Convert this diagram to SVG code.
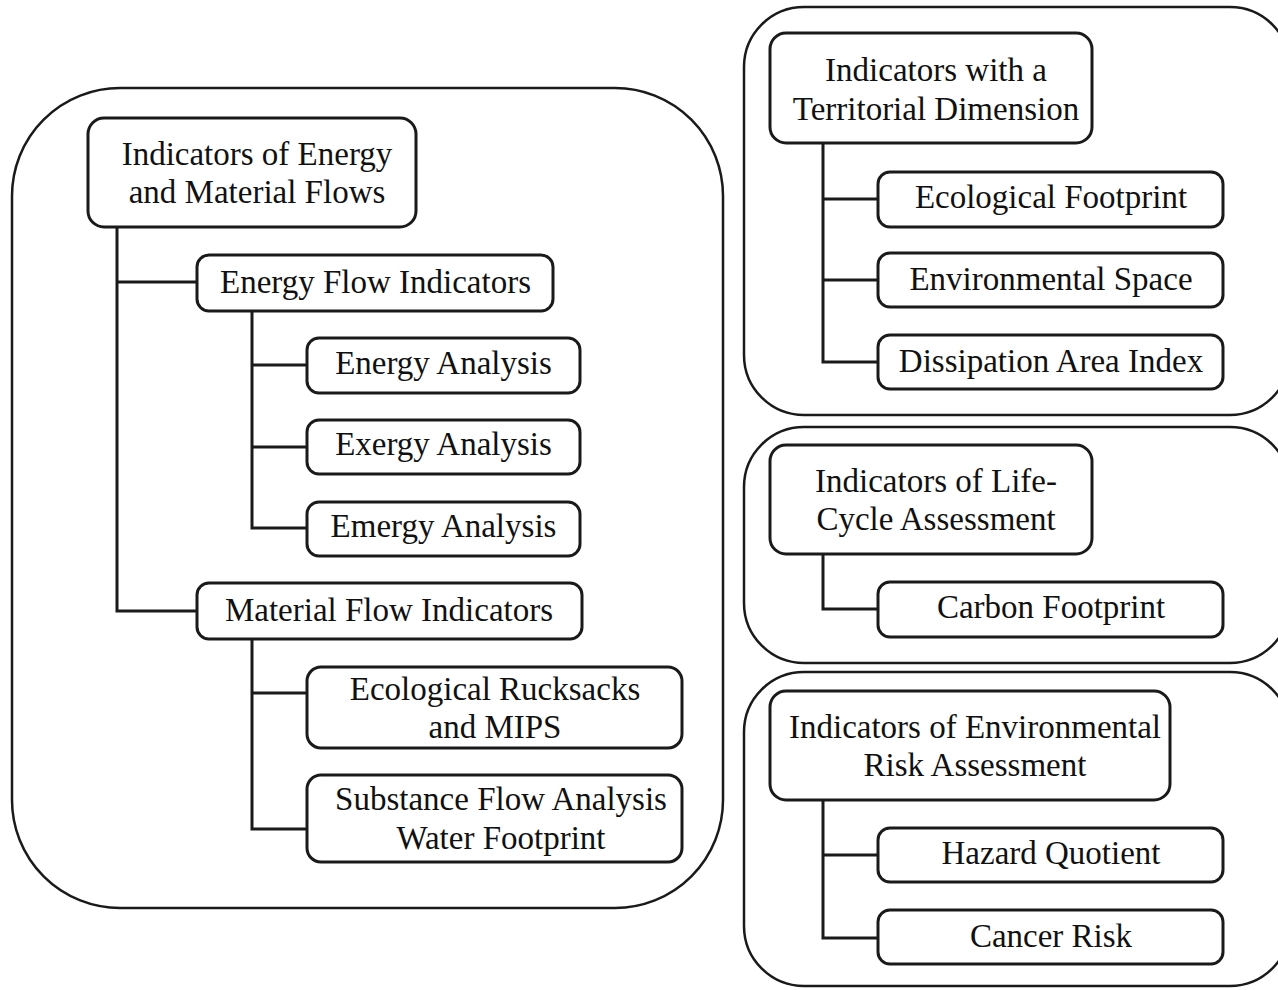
<svg xmlns="http://www.w3.org/2000/svg" width="1278" height="990" viewBox="0 0 1278 990">
<style>
.outer{fill:none;stroke:#1a1a1a;stroke-width:2.5}
.box{fill:#fff;stroke:#1a1a1a;stroke-width:3}
.conn{fill:none;stroke:#1a1a1a;stroke-width:3;stroke-linejoin:miter}
text{font-family:"Liberation Serif","Times New Roman",serif;font-size:33px;fill:#111;text-anchor:middle}
</style>
<rect width="1278" height="990" fill="#fff"/>
<g id="containers">
<rect class="outer" x="12" y="88" width="711" height="820" rx="108" ry="108"/>
<rect class="outer" x="744" y="7" width="546" height="408" rx="60" ry="60"/>
<rect class="outer" x="744" y="427" width="546" height="236" rx="60" ry="60"/>
<rect class="outer" x="744" y="672" width="546" height="314" rx="60" ry="60"/>
</g>
<g id="connectors">
<path class="conn" d="M117,227 V611 H197 M117,282 H197"/>
<path class="conn" d="M252,311 V528 H307 M252,365 H307 M252,447 H307"/>
<path class="conn" d="M252,639 V829 H307 M252,693 H307"/>
<path class="conn" d="M823,143 V362 H878 M823,199 H878 M823,280 H878"/>
<path class="conn" d="M823,554 V609 H878"/>
<path class="conn" d="M823,800 V938 H878 M823,855 H878"/>
</g>
<g id="n-energy-material"><rect class="box" x="88" y="118" width="328" height="109" rx="16"/><text x="257" y="165">Indicators of Energy</text><text x="257" y="203">and Material Flows</text></g>
<g id="n-energy-flow"><rect class="box" x="197" y="255" width="356" height="56" rx="12"/><text x="375.5" y="293">Energy Flow Indicators</text></g>
<g id="n-energy-analysis"><rect class="box" x="307" y="338" width="273" height="55" rx="12"/><text x="443.5" y="374">Energy Analysis</text></g>
<g id="n-exergy"><rect class="box" x="307" y="420" width="273" height="54" rx="12"/><text x="443.5" y="455">Exergy Analysis</text></g>
<g id="n-emergy"><rect class="box" x="307" y="502" width="273" height="54" rx="12"/><text x="443.5" y="537">Emergy Analysis</text></g>
<g id="n-material-flow"><rect class="box" x="197" y="583" width="385" height="56" rx="12"/><text x="389" y="621">Material Flow Indicators</text></g>
<g id="n-rucksacks"><rect class="box" x="307" y="667" width="375" height="81" rx="14"/><text x="495" y="700">Ecological Rucksacks</text><text x="495" y="738">and MIPS</text></g>
<g id="n-substance"><rect class="box" x="307" y="775" width="375" height="87" rx="14"/><text x="501" y="810">Substance Flow Analysis</text><text x="501" y="849">Water Footprint</text></g>
<g id="n-territorial"><rect class="box" x="770" y="33" width="322" height="110" rx="16"/><text x="936" y="81">Indicators with a</text><text x="936" y="120">Territorial Dimension</text></g>
<g id="n-eco-footprint"><rect class="box" x="878" y="172" width="345" height="55" rx="12"/><text x="1051" y="208">Ecological Footprint</text></g>
<g id="n-env-space"><rect class="box" x="878" y="253" width="345" height="54" rx="12"/><text x="1051" y="290">Environmental Space</text></g>
<g id="n-dissipation"><rect class="box" x="878" y="335" width="345" height="54" rx="12"/><text x="1051" y="372">Dissipation Area Index</text></g>
<g id="n-lca"><rect class="box" x="770" y="445" width="322" height="109" rx="16"/><text x="936" y="492">Indicators of Life-</text><text x="936" y="530">Cycle Assessment</text></g>
<g id="n-carbon"><rect class="box" x="878" y="582" width="345" height="55" rx="12"/><text x="1051" y="618">Carbon Footprint</text></g>
<g id="n-risk"><rect class="box" x="770" y="691" width="400" height="109" rx="16"/><text x="975" y="738">Indicators of Environmental</text><text x="975" y="776">Risk Assessment</text></g>
<g id="n-hazard"><rect class="box" x="878" y="828" width="345" height="54" rx="12"/><text x="1051" y="864">Hazard Quotient</text></g>
<g id="n-cancer"><rect class="box" x="878" y="910" width="345" height="54" rx="12"/><text x="1051" y="947">Cancer Risk</text></g>
</svg>
